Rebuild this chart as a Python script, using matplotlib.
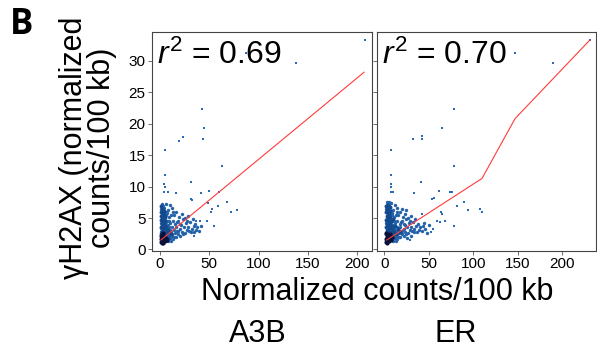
import numpy as np
import matplotlib
matplotlib.use("Agg")
import matplotlib.pyplot as plt

plt.rcParams['font.family'] = ['Liberation Sans', 'DejaVu Sans']
plt.rcParams['mathtext.fontset'] = 'custom'
plt.rcParams['mathtext.rm'] = 'Liberation Sans'
plt.rcParams['mathtext.it'] = 'Liberation Sans:italic'

# panel names and r^2
panels = ["A3B", "ER"]
r2_text = ["0.69", "0.70"]

# dark core of the point cloud
core_a3b = [(1.5,1.2),(2,1.5),(3,1.3),(2.5,1.9),(4,1.6),(5,1.4),(3.5,2.2),(1.8,2.4),
            (6,1.8),(4.5,2.0),(2.2,1.0),(7,1.5),(1.2,1.7),(3,1.0),(1,2.1),(2.8,2.6)]
core_er = [(2,1.2),(3,1.5),(4,1.3),(3.5,1.9),(5,1.6),(6,1.4),(4.5,2.2),(2.8,2.4),
           (7,1.8),(5.5,2.0),(3.2,1.0),(8,1.5),(2.2,1.7),(9,2.0),(6.5,2.5),(2,2.6)]

# dense part of the cloud (near x = 0)
column_a3b = [(0.8,2.5),(1.6,3.0),(0.9,3.6),(1.7,4.1),(0.8,4.7),(1.5,5.3),(0.9,5.9),(1.6,6.4),
              (1.0,6.9),(3.9,3.4),(4.3,4.0),(3.8,5.5),(4.1,6.1),(5.3,4.6),(6.3,3.6),(2.3,2.9),
              (2.6,3.6),(2.3,4.9),(2.6,6.0),(3.3,2.6),(4.6,2.4),(5.9,2.7),(7.0,2.6),(6.8,3.3),
              (8.2,2.9),(9.6,2.7),(11.5,2.4),(5.0,1.9),(8.0,1.8),(3.0,4.4),(3.3,5.8),(4.6,5.1)]
column_er = [(2.2,2.5),(3.0,3.0),(2.3,3.6),(3.1,4.1),(2.2,4.7),(2.9,5.3),(2.3,5.9),(3.0,6.4),
             (2.4,6.9),(5.9,3.4),(6.3,4.0),(5.8,5.5),(6.1,6.1),(7.3,4.6),(8.3,3.6),(4.3,2.9),
             (4.6,3.6),(4.3,4.9),(4.6,6.0),(5.3,2.6),(6.6,2.4),(7.9,2.7),(9.0,2.6),(8.8,3.3),
             (10.2,2.9),(11.6,2.7),(13.5,2.4),(7.0,1.9),(10.0,1.8),(5.0,4.4),(5.3,5.8),(6.6,5.1),
             (4.0,7.0),(7.0,6.8),(9.5,4.9),(12.0,3.8),(15.5,3.3),(18.0,2.8)]

cloud_a3b = [(1.5,2.8),(2,3.3),(1.8,3.9),(2.2,4.5),(1.6,5.0),(2.4,5.6),(1.9,6.1),(2.1,6.6),
             (1.7,7.0),(2.5,7.3),(3,6.9),(3.2,6.2),(2.8,5.3),(3.4,4.8),(3.1,4.1),(3.6,3.6),
             (2.9,3.0),(4,2.6),(1.2,4.2),(1.3,6.4),(4.5,5.8),(5,5.0),(4.8,4.3),(5.5,3.8),
             (6,3.2),(5.2,2.7),(7,4.6),(6.5,5.4),(8,3.9),(7.5,3.0),(8.5,2.5),(9,3.5),
             (10,4.2),(9.5,5.1),(11,2.8),(12,3.6),(12.5,2.2),(13,4.5),(14,3.1),(15,2.6),
             (15.5,4.0),(16,3.5),(17,2.9),(18,4.6),(18.5,2.4),(20,3.3),(21,3.9),(22,2.8),
             (23,4.8),(24,3.5),(25,2.6),(26,4.2),(27,3.1),(28,3.6),(29,2.9),(30,4.4),
             (32,3.3),(34,3.8),(35,2.8),(36,4.1),(38,3.5),(40,3.0),(42,3.7),(8,6.3),
             (10,7.0),(12,6.6),(6,7.3),(14,5.5),(16,6.0),(19,5.2),(22,5.6),(25,5.0),
             (28,5.3),(10,1.8),(13,1.6),(16,2.0),(20,2.2),(8,1.4),(11,1.3),(6,2.4),
             (7,2.0),(9,2.2),(4,3.0),(5,3.5),(3,3.8),(3.5,5.2),(4.2,6.6),(5.8,6.0),
             (7.2,5.8),(9,4.6),(11,5.5),(13,5.9),(17,4.4),(20,4.0),(27,4.5),(33,4.8),
             (31,2.7),(37,3.1),(2.6,2.3),(3.8,2.8),(1.4,3.4),(2.7,4.2),(4.4,4.7),(6.2,4.1),
             (7.8,3.4),(10.5,3.1),(12,2.5),(14.5,2.0),(18,3.0),(23,2.4),(5.6,2.9),(9.8,2.6)]

cloud_er = [(3,2.8),(3.5,3.3),(3.2,3.9),(3.6,4.5),(3,5.0),(3.8,5.6),(3.3,6.1),(3.5,6.6),
            (3.1,7.0),(4,7.4),(5,6.9),(5.2,6.2),(4.8,5.3),(5.4,4.8),(5.1,4.1),(5.6,3.6),
            (4.9,3.0),(6,2.6),(2.5,4.2),(2.6,6.4),(6.5,5.8),(7,5.0),(6.8,4.3),(7.5,3.8),
            (8,3.2),(7.2,2.7),(9,4.6),(8.5,5.4),(10,3.9),(9.5,3.0),(10.5,2.5),(11,3.5),
            (12,4.2),(11.5,5.1),(13,2.8),(14,3.6),(14.5,2.2),(15,4.5),(16,3.1),(17,2.6),
            (17.5,4.0),(18,3.5),(19,2.9),(20,4.6),(20.5,2.4),(22,3.3),(23,3.9),(24,2.8),
            (25,4.8),(26,3.5),(27,2.6),(28,4.2),(29,3.1),(30,3.6),(31,2.9),(32,4.4),
            (34,3.3),(36,3.8),(37,2.8),(38,4.1),(40,3.5),(42,3.0),(44,3.7),(10,6.3),
            (12,7.0),(14,6.6),(8,7.4),(16,5.5),(18,6.0),(21,5.2),(24,5.6),(27,5.0),
            (30,5.3),(12,1.8),(15,1.6),(18,2.0),(22,2.2),(10,1.4),(13,1.3),(8,2.4),
            (9,2.0),(11,2.2),(6,3.0),(7,3.5),(5,3.8),(5.5,5.2),(6.2,6.6),(7.8,6.0),
            (9.2,5.8),(11,4.6),(13,5.5),(15,5.9),(19,4.4),(22,4.0),(29,4.5),(35,4.8),
            (33,2.7),(39,3.1),(46,3.3),(48,2.6),(45,4.2),(50,3.9),(26,1.8),(30,2.1),
            (4.6,2.3),(5.8,2.8),(3.4,3.4),(4.7,4.2),(6.4,4.7),(8.2,4.1),(9.8,3.4),
            (12.5,3.1),(14,2.5),(16.5,2.0),(20,3.0),(25,2.4),(7.6,2.9),(11.8,2.6),
            (2.8,7.5),(6,7.5),(3,1.5),(20,6.5),(25,6.2)]

outliers_a3b = [(208,33.4),(87,31.3),(138,29.6),(43,22.4),(44.7,19.3),(44,17.5),(19.6,17.3),
                (23,17.9),(5,15.8),(63,13.3),(4.7,11.8),(31,10.8),(4.4,10.4),(4.7,9.9),
                (4.3,9.2),(7.7,9.2),(16,8.9),(50,9.3),(60,9.1),(42,9.0),(31.6,8.1),(32.5,7.9),
                (49,7.4),(68,7.5),(59,6.9),(51.5,5.9),(52.5,6.4),(72,6.0),(77.8,6.2),(41,4.5),
                (47.6,4.6),(54.8,3.8),(35,2.2),(12.6,1.5),(36.5,4.5)]

outliers_er = [(231,33.3),(147,31.3),(190,29.6),(79,22.4),(65,19.3),(32,17.5),(42,18),
               (43,17.5),(8,15.8),(79,13.3),(8,11.8),(41.6,10.8),(7.5,10.4),(7.5,9.9),
               (7.5,9.2),(9.5,9.2),(33,8.9),(62,9.3),(74,9.1),(76,9.1),(54,8.1),(56,8.2),
               (90,7.5),(82,6.9),(94,6.2),(108,6.4),(110,6.0),(64,6.0),(65,5.7),(43,5.7),
               (59,4.6),(63,4.3),(68,4.6),(79,3.7),(53,2.8),(55,3.3),(29,1.5)]

# fitted lines
line_a3b_x = [1, 207]
line_a3b_y = [1.5, 28.2]
line_er_x = [3, 110, 147, 231]
line_er_y = [1.5, 11.3, 20.8, 33.3]

fig = plt.figure(figsize=(5.97, 3.51), dpi=100)
ax1 = fig.add_axes([0.2546, 0.2849, 0.3685, 0.624])
ax2 = fig.add_axes([0.6315, 0.2849, 0.3668, 0.624])

data = [(ax1, cloud_a3b, column_a3b, core_a3b, outliers_a3b, line_a3b_x, line_a3b_y, (-8.1, 215)),
        (ax2, cloud_er, column_er, core_er, outliers_er, line_er_x, line_er_y, (-8, 238))]

for i, (ax, cloud, col, core, outl, lx, ly, xl) in enumerate(data):
    c = np.array(cloud); d = np.array(col); k = np.array(core); o = np.array(outl)
    ax.scatter(c[:, 0], c[:, 1], s=6, marker='o', color='#2462aa', linewidths=0)
    ax.scatter(d[:, 0], d[:, 1], s=8, marker='o', color='#134a8e', linewidths=0)
    ax.scatter(o[:, 0], o[:, 1], s=3, marker='s', color='#2a6bb5', linewidths=0)
    ax.scatter(k[:, 0], k[:, 1], s=9, marker='o', color='#08123a', linewidths=0)
    ax.plot(lx, ly, color='#ff3b3b', lw=0.8)
    ax.set_xlim(*xl)
    ax.set_ylim(-0.25, 34.6)
    ax.set_xticks([0, 50, 100, 150, 200])
    ax.set_yticks([0, 5, 10, 15, 20, 25, 30])
    ax.tick_params(length=3, width=0.6, color='#555555', labelsize=11, pad=1.5)
    for sp in ax.spines.values():
        sp.set_color('#444444')
        sp.set_linewidth(0.8)
    if i == 1:
        ax.set_yticklabels([])
    ax.text(0.025, 0.855, r'$r^2$ = ' + r2_text[i], transform=ax.transAxes,
            fontsize=23, va='baseline', ha='left')

fig.text(88/597, 1-148/351, "\u03b3H2AX (normalized\ncounts/100 kb)", rotation=90,
         ha='center', va='center', fontsize=22, multialignment='center', linespacing=0.95)
fig.text(377/597, 1-300/351, "Normalized counts/100 kb", ha='center', va='baseline', fontsize=22)
fig.text(258/597, 1-342/351, panels[0], ha='center', va='baseline', fontsize=22)
fig.text(456/597, 1-342/351, panels[1], ha='center', va='baseline', fontsize=22)
fig.text(10/597, 1-34/351, "B", ha='left', va='baseline', fontsize=25, fontweight='bold',
         family=['Open Sans', 'DejaVu Sans'])

fig.savefig("out.png", dpi=100)
